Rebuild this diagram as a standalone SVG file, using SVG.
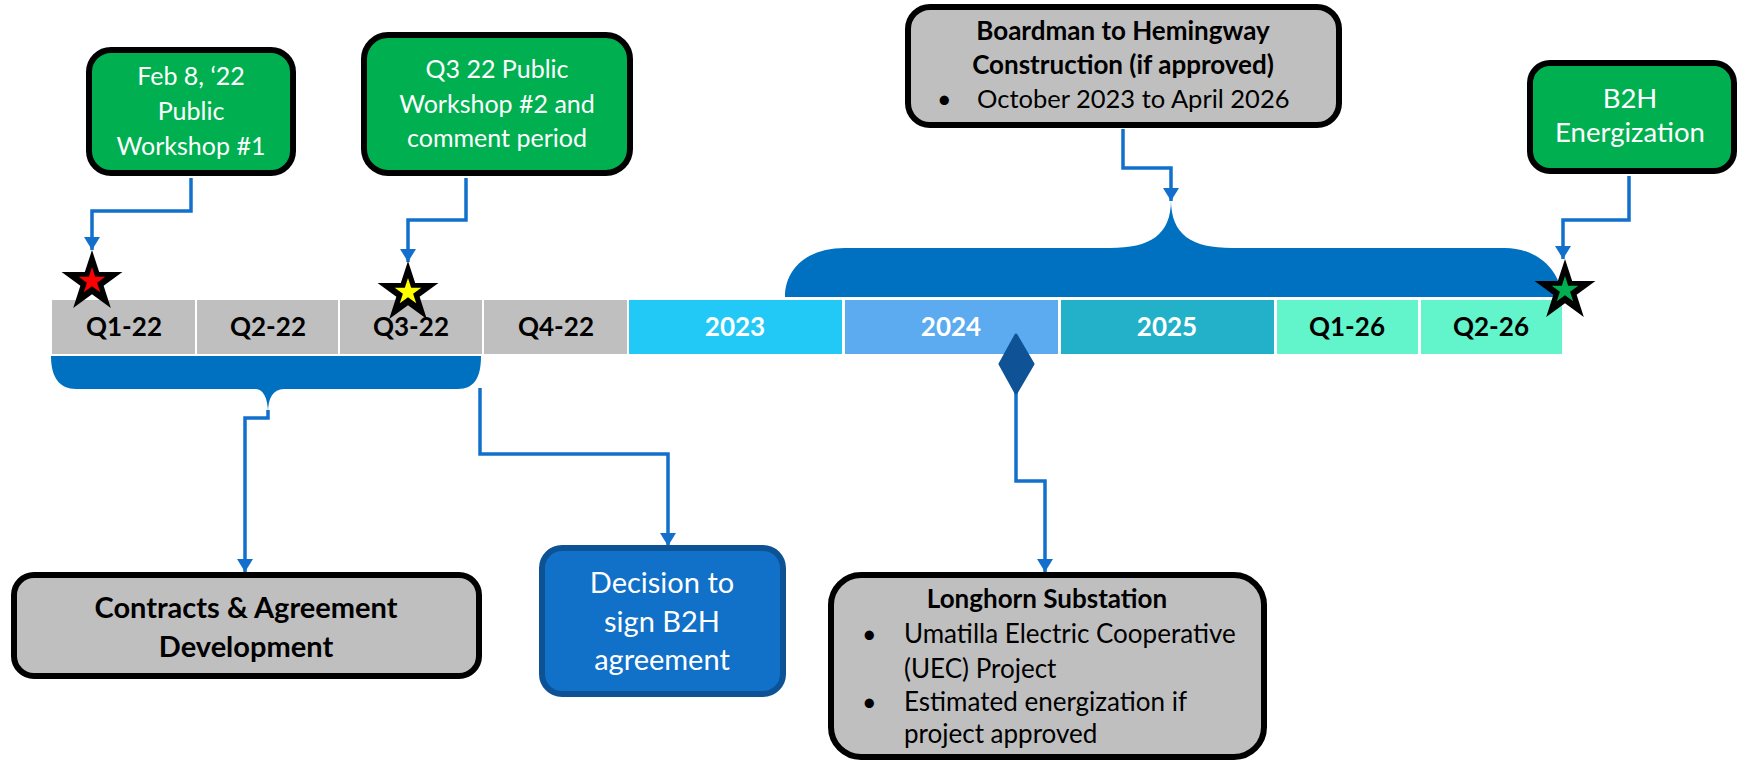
<svg xmlns="http://www.w3.org/2000/svg" xmlns:xlink="http://www.w3.org/1999/xlink" width="1745" height="761" viewBox="0 0 1745 761">
<style>
  text { font-family: Lato, "Liberation Sans", sans-serif; }
  .green { fill: #00B050; stroke: #000; stroke-width: 6; }
  .gray { fill: #BFBFBF; stroke: #000; stroke-width: 6; }
  .wt { fill: #fff; font-size: 25px; text-anchor: middle; }
  .bk { fill: #000; font-size: 25px; }
  .bold { font-weight: bold; }
  .mid { text-anchor: middle; }
  .seg { stroke: none; }
  .lbl { font-size: 26px; font-weight: bold; text-anchor: middle; }
  .conn { fill: none; stroke: #1270CC; stroke-width: 3.5; marker-end: url(#arr); }
</style>
<defs>
  <marker id="arr" markerUnits="userSpaceOnUse" markerWidth="13" markerHeight="16" refX="13" refY="8" orient="auto">
    <path d="M0,0 L13,8 L0,16 Z" fill="#1270CC"/>
  </marker>
  <path id="star" d="M0,-10 L2.245,-3.09 L9.511,-3.09 L3.633,1.18 L5.878,8.09 L0,3.82 L-5.878,8.09 L-3.633,1.18 L-9.511,-3.09 L-2.245,-3.09 Z"/>
</defs>
<rect width="1745" height="761" fill="#fff"/>

<g id="timeline">
  <rect class="seg" x="52" y="300" width="143" height="54" fill="#BFBFBF"/>
  <rect class="seg" x="197" y="300" width="141" height="54" fill="#BFBFBF"/>
  <rect class="seg" x="340" y="300" width="142" height="54" fill="#BFBFBF"/>
  <rect class="seg" x="484" y="300" width="143" height="54" fill="#BFBFBF"/>
  <rect class="seg" x="629" y="300" width="213" height="54" fill="#22C9F7"/>
  <rect class="seg" x="845" y="300" width="213" height="54" fill="#5CABF0"/>
  <rect class="seg" x="1061" y="300" width="213" height="54" fill="#22B1C8"/>
  <rect class="seg" x="1277" y="300" width="141" height="54" fill="#62F5CB"/>
  <rect class="seg" x="1421" y="300" width="141" height="54" fill="#62F5CB"/>
  <text class="lbl" x="124" y="336" fill="#000">Q1-22</text>
  <text class="lbl" x="268" y="336" fill="#000">Q2-22</text>
  <text class="lbl" x="411" y="336" fill="#000">Q3-22</text>
  <text class="lbl" x="556" y="336" fill="#000">Q4-22</text>
  <text class="lbl" x="735" y="336" fill="#fff">2023</text>
  <text class="lbl" x="951" y="336" fill="#fff">2024</text>
  <text class="lbl" x="1167" y="336" fill="#fff">2025</text>
  <text class="lbl" x="1347" y="336" fill="#000">Q1-26</text>
  <text class="lbl" x="1491" y="336" fill="#000">Q2-26</text>
</g>

<g id="braces">
  <path d="M785,297 C785,268 808,248 845,248 L1110,248 C1150,248 1171,235 1171,200 C1171,235 1192,248 1232,248 L1505,248 C1535,248 1560,268 1562,297 Z" fill="#0070C0"/>
  <path d="M51,356 L481,356 C481,378 474,389 458,389 L284,389 C273,389 268,398 268,413 C268,398 263,389 256,389 L76,389 C60,389 51,378 51,356 Z" fill="#0070C0"/>
</g>

<g id="connectors">
  <path class="conn" d="M191,178 V211 H92 V250"/>
  <path class="conn" d="M466,178 V220 H408 V262"/>
  <path class="conn" d="M1123,129 V168 H1171 V201"/>
  <path class="conn" d="M1629,176 V220 H1563 V259"/>
  <path class="conn" d="M268,410 V418 H245 V572"/>
  <path class="conn" d="M480,388 V454 H668 V546"/>
  <path class="conn" d="M1016,390 V481 H1045 V572"/>
</g>

<g id="markers">
  <path d="M1016,335 L1033,364 L1016,393 L1000,364 Z" fill="#0F5296" stroke="#0F5296" stroke-width="3" stroke-linejoin="round"/>
  <use xlink:href="#star" transform="translate(92,282) scale(3.2)" fill="#000"/>
  <use xlink:href="#star" transform="translate(92,281) scale(1.4)" fill="#FF0000"/>
  <use xlink:href="#star" transform="translate(408,293) scale(3.2)" fill="#000"/>
  <use xlink:href="#star" transform="translate(408,292) scale(1.4)" fill="#FFFF00"/>
  <use xlink:href="#star" transform="translate(1565,291) scale(3.2)" fill="#000"/>
  <use xlink:href="#star" transform="translate(1565,290) scale(1.4)" fill="#00B050"/>
</g>

<g id="node-feb">
  <rect class="green" x="89" y="50" width="204" height="123" rx="22"/>
  <text class="wt" x="191" y="85">Feb 8, ‘22</text>
  <text class="wt" x="191" y="120">Public</text>
  <text class="wt" x="191" y="155">Workshop #1</text>
</g>

<g id="node-q3">
  <rect class="green" x="364" y="35" width="266" height="138" rx="24"/>
  <text class="wt" x="497" y="78">Q3 22 Public</text>
  <text class="wt" x="497" y="113">Workshop #2 and</text>
  <text class="wt" x="497" y="147">comment period</text>
</g>

<g id="node-boardman">
  <rect class="gray" x="908" y="7" width="431" height="118" rx="22"/>
  <text class="bk bold mid" x="1123" y="40" style="font-size:26px">Boardman to Hemingway</text>
  <text class="bk bold mid" x="1123" y="74" style="font-size:26px">Construction (if approved)</text>
  <text class="bk" x="937" y="108">•</text>
  <text class="bk" x="977" y="108" style="font-size:25.5px">October 2023 to April 2026</text>
</g>

<g id="node-b2h">
  <rect class="green" x="1530" y="63" width="204" height="108" rx="20"/>
  <text class="wt" x="1630" y="108" style="font-size:27.5px">B2H</text>
  <text class="wt" x="1630" y="142" style="font-size:27.5px">Energization</text>
</g>

<g id="node-contracts">
  <rect class="gray" x="14" y="575" width="465" height="101" rx="20"/>
  <text class="bk bold mid" x="246" y="618" style="font-size:29px">Contracts &amp; Agreement</text>
  <text class="bk bold mid" x="246" y="657" style="font-size:29px">Development</text>
</g>

<g id="node-decision">
  <rect x="542" y="548" width="241" height="146" rx="20" fill="#1170C8" stroke="#0E5296" stroke-width="6"/>
  <text class="wt" x="662" y="593" style="font-size:29px">Decision to</text>
  <text class="wt" x="662" y="632" style="font-size:29px">sign B2H</text>
  <text class="wt" x="662" y="670" style="font-size:29px">agreement</text>
</g>

<g id="node-longhorn">
  <rect class="gray" x="831" y="575" width="433" height="182" rx="30"/>
  <text class="bk bold mid" x="1047" y="608" style="font-size:26px">Longhorn Substation</text>
  <text class="bk" x="862" y="643">•</text>
  <text class="bk" x="904" y="643" style="font-size:26px">Umatilla Electric Cooperative</text>
  <text class="bk" x="904" y="678" style="font-size:26px">(UEC)  Project</text>
  <text class="bk" x="862" y="711">•</text>
  <text class="bk" x="904" y="711" style="font-size:26px">Estimated energization if</text>
  <text class="bk" x="904" y="743" style="font-size:26px">project approved</text>
</g>
</svg>
